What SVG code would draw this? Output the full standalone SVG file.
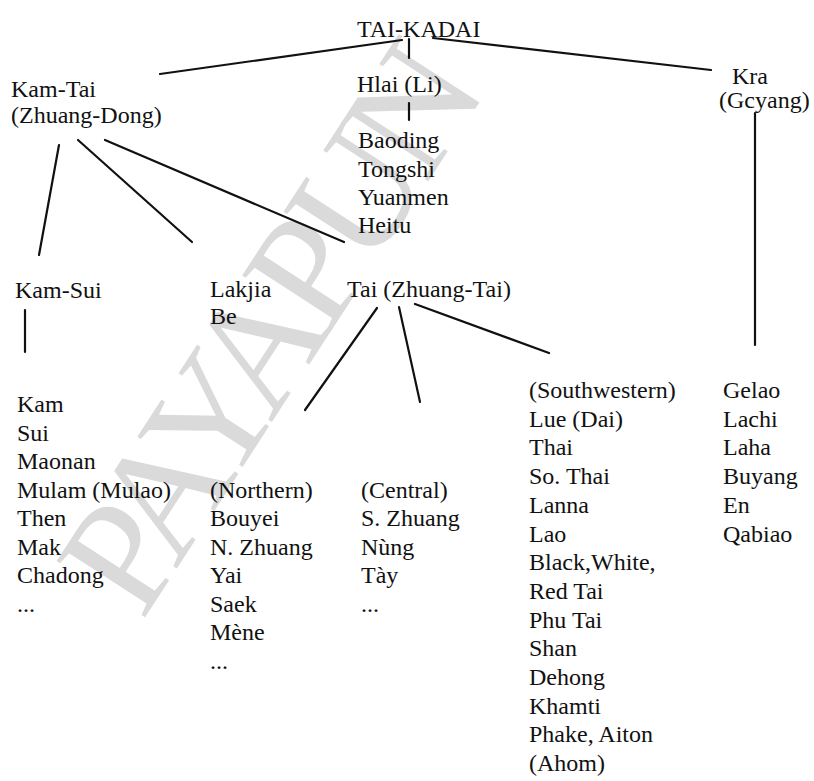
<svg xmlns="http://www.w3.org/2000/svg" width="814" height="781" viewBox="0 0 814 781">
<style>
text{font-family:"Liberation Serif","Times New Roman",serif;font-size:24px;fill:#111}
text.wm{font-size:160px;fill:#dadada;letter-spacing:-12px}
.c line{stroke:#111;stroke-width:2.2;stroke-linecap:round}
</style>
<rect width="814" height="781" fill="#fff"/>
<g id="watermark"><text class="wm" transform="translate(142,622) rotate(-57)">PAYAPUN</text></g>
<g class="c" id="connectors">
<line x1="402" y1="40" x2="160" y2="74"/>
<line x1="409" y1="39" x2="409" y2="58"/>
<line x1="433" y1="38" x2="711" y2="70"/>
<line x1="409" y1="103" x2="409" y2="120"/>
<line x1="755" y1="113" x2="755" y2="345"/>
<line x1="59" y1="145" x2="39" y2="255"/>
<line x1="78" y1="140" x2="192" y2="242"/>
<line x1="105" y1="140" x2="344" y2="242"/>
<line x1="25" y1="310" x2="25" y2="352"/>
<line x1="377" y1="308" x2="305" y2="410"/>
<line x1="399" y1="307" x2="420" y2="402"/>
<line x1="415" y1="304" x2="549" y2="353"/>
</g>
<g id="taikadai"><text x="357" y="37">TAI-KADAI</text></g>
<g id="kamtai"><text x="11" y="97">Kam-Tai</text><text x="11" y="123">(Zhuang-Dong)</text></g>
<g id="hlai"><text x="357" y="92">Hlai (Li)</text></g>
<g id="hlai-list"><text x="358" y="148">Baoding</text><text x="358" y="177">Tongshi</text><text x="358" y="205">Yuanmen</text><text x="358" y="233">Heitu</text></g>
<g id="kra"><text x="732" y="84">Kra</text><text x="719" y="108">(Gcyang)</text></g>
<g id="kamsui"><text x="15" y="298">Kam-Sui</text></g>
<g id="lakjia"><text x="210" y="297">Lakjia</text><text x="210" y="324">Be</text></g>
<g id="tai"><text x="347" y="297">Tai (Zhuang-Tai)</text></g>
<g id="kamsui-list"><text x="17" y="412">Kam</text><text x="17" y="440.5">Sui</text><text x="17" y="469">Maonan</text><text x="17" y="497.5">Mulam (Mulao)</text><text x="17" y="526">Then</text><text x="17" y="554.5">Mak</text><text x="17" y="583">Chadong</text><text x="17" y="611.5">...</text></g>
<g id="northern"><text x="210" y="497.5">(Northern)</text><text x="210" y="526">Bouyei</text><text x="210" y="554.5">N. Zhuang</text><text x="210" y="583">Yai</text><text x="210" y="611.5">Saek</text><text x="210" y="640">Mène</text><text x="210" y="668.5">...</text></g>
<g id="central"><text x="361" y="497.5">(Central)</text><text x="361" y="526">S. Zhuang</text><text x="361" y="554.5">Nùng</text><text x="361" y="583">Tày</text><text x="361" y="611.5">...</text></g>
<g id="southwestern"><text x="529" y="398">(Southwestern)</text><text x="529" y="426.7">Lue (Dai)</text><text x="529" y="455.4">Thai</text><text x="529" y="484">So. Thai</text><text x="529" y="512.8">Lanna</text><text x="529" y="541.5">Lao</text><text x="529" y="570">Black,White,</text><text x="529" y="599">Red Tai</text><text x="529" y="627.6">Phu Tai</text><text x="529" y="656">Shan</text><text x="529" y="685">Dehong</text><text x="529" y="714">Khamti</text><text x="529" y="742.4">Phake, Aiton</text><text x="529" y="771">(Ahom)</text></g>
<g id="kra-list"><text x="723" y="398">Gelao</text><text x="723" y="426.7">Lachi</text><text x="723" y="455.4">Laha</text><text x="723" y="484">Buyang</text><text x="723" y="512.8">En</text><text x="723" y="541.5">Qabiao</text></g>
</svg>
